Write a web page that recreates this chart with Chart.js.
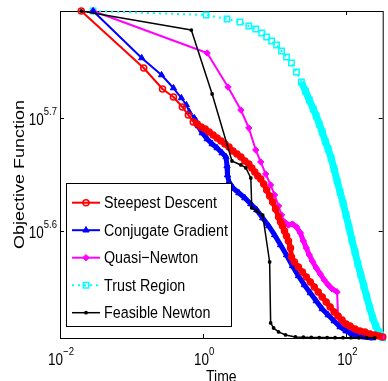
<!DOCTYPE html>
<html>
<head>
<meta charset="utf-8">
<title>Objective Function vs Time</title>
<script src="https://cdn.jsdelivr.net/npm/chart.js@4.4.1/dist/chart.umd.min.js"></script>
<style>
    html, body { margin: 0; padding: 0; background: #fff; }
    #plot { display: block; }
</style>
</head>
<body>
<canvas id="plot" width="388" height="381"></canvas>
<script>
// Solver runs: elapsed time (s) and objective value per iteration.
const sdTime = [0.0198, 0.1476, 0.2704, 0.3842, 0.5118, 0.6198, 0.727, 0.826, 0.938, 1.066, 1.211, 1.376, 1.563, 1.776, 2.017, 2.291, 2.603, 2.958, 3.360, 3.817, 4.337, 4.773, 5.252, 5.779, 6.360, 6.998, 7.700, 8.472, 9.322, 10.26, 11.29, 12.03, 12.82, 13.67, 14.57, 15.53, 16.56, 17.10, 18.80, 21.36, 24.27, 27.57, 31.32, 35.59, 40.43, 45.92, 52.19, 59.28, 67.35, 76.51, 86.91, 98.75, 112.2, 131.6, 154.3, 181.0, 212.3, 248.9, 282.9, 321.4];
const sdValue = [624350, 555600, 532200, 523600, 513000, 504600, 497500, 495400, 492400, 490400, 487400, 484400, 481400, 478500, 475600, 472700, 468800, 465900, 463100, 459300, 456500, 452800, 449100, 445400, 442700, 438200, 432800, 427600, 422300, 416300, 409600, 405400, 402100, 398000, 393900, 389900, 384400, 377400, 373500, 369700, 366000, 362200, 358600, 354900, 351300, 347700, 344200, 340700, 337200, 334400, 331700, 329000, 327700, 325700, 324300, 323700, 322400, 321700, 321000, 320400];

const cgTime = [0.029, 0.1384, 0.2619, 0.3842, 0.4957, 0.5815, 0.6399, 0.7504, 0.8527, 0.9685, 1.136, 1.333, 1.563, 1.833, 2.083, 2.150, 2.184, 2.291, 2.603, 3.153, 3.817, 4.623, 5.597, 6.777, 8.207, 9.936, 12.03, 14.57, 17.64, 21.36, 25.86, 31.32, 37.92, 45.92, 55.63, 67.35, 81.55, 98.75, 119.5, 144.8, 175.3, 233.6];
const cgValue = [624350, 567100, 547700, 533300, 522500, 515100, 507800, 501600, 493400, 486400, 480500, 475600, 471700, 466900, 463100, 454600, 446300, 440000, 434600, 430200, 425800, 420600, 415500, 408700, 402100, 394800, 386800, 378900, 370500, 363000, 356400, 350600, 344900, 339300, 335100, 331000, 327000, 324300, 322400, 321000, 320400, 319700];

const qnTime = [0.029, 1.136, 2.220, 3.360, 4.337, 5.422, 6.360, 7.459, 8.748, 9.936, 11.29, 12.42, 13.67, 15.53, 17.64, 20.04, 22.77, 25.06, 27.57, 30.34, 33.38, 37.92, 43.09, 48.96, 55.63, 63.18, 74.10, 76.51, 84.20, 98.75, 115.8, 135.8, 159.3, 186.8, 219.1, 257.0, 321.4];
const qnValue = [624350, 572900, 534400, 509800, 491400, 469800, 458400, 447200, 437300, 428400, 418900, 411200, 405400, 402900, 403700, 401300, 396400, 389900, 384400, 378900, 374300, 369000, 364500, 360000, 356400, 353500, 351300, 334400, 330400, 327700, 325700, 324300, 323700, 323000, 322400, 321700, 320400];

const trTime = [0.029, 1.101, 2.150, 3.255, 4.337, 5.422, 6.566, 7.700, 9.032, 10.59, 12.42, 14.57, 17.10, 20.04, 23.51, 26.71, 30.34, 34.46, 37.92, 41.74, 45.92, 50.53, 55.63, 61.20, 67.35, 74.10, 81.55, 89.75, 98.75, 108.6, 119.5, 131.6, 144.8, 159.3, 175.3, 192.9, 212.3, 233.6, 257.0, 282.9, 301.5, 321.4];
const trValue = [624350, 619300, 614200, 610500, 605500, 601800, 596900, 592000, 587200, 582400, 575300, 568200, 561300, 551100, 539900, 530100, 520400, 510900, 503600, 495400, 487400, 478500, 470700, 462100, 451800, 440900, 431100, 421500, 411200, 401300, 390700, 381300, 372000, 363700, 355600, 347700, 340000, 333100, 327700, 323700, 321700, 319800];

const fnTime = [0.0198, 0.6822, 1.333, 2.521, 3.360, 3.941, 4.623, 4.773, 5.597, 6.777, 8.472, 8.748, 9.625, 11.29, 14.12, 19.42, 25.06, 32.33, 41.74, 53.86, 69.53, 89.75, 115.8, 149.5, 192.9, 248.9];
const fnValue = [624350, 600500, 526800, 459300, 455600, 452800, 443600, 417200, 414600, 411200, 373500, 329700, 326300, 323700, 321700, 320400, 320200, 320100, 320000, 320000, 319900, 319900, 319900, 319800, 319800, 319800];

const seriesNames = ['Steepest Descent', 'Conjugate Gradient', 'Quasi\u2212Newton', 'Trust Region', 'Feasible Newton'];

const xRange = [0.01, 321.4];
const yRange = [319700, 624350];
const xTickValues = [0.01, 1, 100];
const xTickPowers = ['\u22122', '0', '2'];
const yTickValues = [398107, 501187];
const yTickPowers = ['5.6', '5.7'];

(function () {
    'use strict';

    const FONT = '"Liberation Sans", Arial, Helvetica, sans-serif';
    const STRETCH = 1.16;

    function points(times, values) {
        return times.map(function (t, i) {
            return { x: t, y: values[i] };
        });
    }

    // iterations bunch up late in a run; draw those stretches as a solid band
    function dense(from, sparse, packed) {
        return function (ctx) {
            const span = Math.hypot(ctx.p1.x - ctx.p0.x, ctx.p1.y - ctx.p0.y);
            return ctx.p0DataIndex >= from && span < 16 ? packed : sparse;
        };
    }

    function series(label, times, values, style) {
        return Object.assign({
            label: label,
            data: points(times, values),
            fill: false,
            tension: 0,
            clip: false,
            borderJoinStyle: 'round',
            pointHoverRadius: style.pointRadius
        }, style);
    }

    const datasets = [
        series(seriesNames[0], sdTime, sdValue, {
            order: 1,
            borderColor: '#ff0000',
            borderWidth: 2,
            pointStyle: 'circle',
            pointRadius: 3,
            pointBorderWidth: 1.5,
            pointBorderColor: '#ff0000',
            pointBackgroundColor: 'rgba(255,255,255,0)',
            segment: { borderWidth: dense(6, 2, 5) }
        }),
        series(seriesNames[1], cgTime, cgValue, {
            order: 2,
            borderColor: '#0000ff',
            borderWidth: 2,
            pointStyle: 'triangle',
            pointRadius: 3.6,
            pointBorderWidth: 1,
            pointBorderColor: '#0000ff',
            pointBackgroundColor: '#0000ff',
            segment: { borderWidth: dense(7, 2, 5) }
        }),
        series(seriesNames[2], qnTime, qnValue, {
            order: 3,
            borderColor: '#ff00ff',
            borderWidth: 2,
            pointStyle: 'rectRot',
            pointRadius: 3.2,
            pointBorderWidth: 1,
            pointBorderColor: '#ff00ff',
            pointBackgroundColor: '#ff00ff',
            segment: { borderWidth: dense(12, 2, 5) }
        }),
        series(seriesNames[3], trTime, trValue, {
            order: 4,
            borderColor: '#00ffff',
            borderWidth: 2,
            borderDash: [2, 4],
            pointStyle: 'rect',
            pointRadius: 3.8,
            pointBorderWidth: 1.5,
            pointBorderColor: '#00ffff',
            pointBackgroundColor: 'rgba(255,255,255,0)',
            segment: {
                borderWidth: dense(14, 2, 7),
                borderDash: dense(14, [2, 4], [])
            }
        }),
        series(seriesNames[4], fnTime, fnValue, {
            order: 0,
            borderColor: '#000000',
            borderWidth: 1.5,
            pointStyle: 'circle',
            pointRadius: 1.9,
            pointBorderWidth: 0,
            pointBorderColor: '#000000',
            pointBackgroundColor: '#000000'
        })
    ];

    function text(ctx, str, x, y, size, align, vertical) {
        ctx.save();
        ctx.translate(x, y);
        ctx.scale(1, STRETCH);
        if (vertical) {
            ctx.rotate(-Math.PI / 2);
        }
        ctx.font = size + 'px ' + FONT;
        ctx.textAlign = align;
        ctx.textBaseline = 'alphabetic';
        ctx.fillStyle = '#000';
        ctx.fillText(str, 0, 0);
        ctx.restore();
    }

    function power(ctx, exponent, x, y, align) {
        ctx.font = '13.5px ' + FONT;
        const baseWidth = ctx.measureText('10').width;
        ctx.font = '9.5px ' + FONT;
        const total = baseWidth + ctx.measureText(exponent).width;
        const left = align === 'center' ? x - total / 2 : x - total;
        text(ctx, '10', left, y, 13.5, 'left');
        text(ctx, exponent, left + baseWidth, y - 10, 9.5, 'left');
    }

    function marker(ctx, ds, x, y) {
        const r = ds.pointRadius;
        ctx.beginPath();
        if (ds.pointStyle === 'triangle') {
            ctx.moveTo(x, y - r);
            ctx.lineTo(x + r * 0.866, y + r / 2);
            ctx.lineTo(x - r * 0.866, y + r / 2);
            ctx.closePath();
        } else if (ds.pointStyle === 'rectRot') {
            ctx.moveTo(x, y - r);
            ctx.lineTo(x + r, y);
            ctx.lineTo(x, y + r);
            ctx.lineTo(x - r, y);
            ctx.closePath();
        } else if (ds.pointStyle === 'rect') {
            const h = r * Math.SQRT1_2;
            ctx.rect(x - h, y - h, h * 2, h * 2);
        } else {
            ctx.arc(x, y, r, 0, Math.PI * 2);
        }
        ctx.fillStyle = ds.pointBackgroundColor;
        ctx.fill();
        if (ds.pointBorderWidth > 0) {
            ctx.lineWidth = ds.pointBorderWidth;
            ctx.strokeStyle = ds.pointBorderColor;
            ctx.stroke();
        }
    }

    function drawLegend(ctx) {
        const box = { left: 66.5, top: 183.5, right: 231.5, bottom: 326.5 };
        ctx.save();
        ctx.fillStyle = '#fff';
        ctx.fillRect(box.left, box.top, box.right - box.left, box.bottom - box.top);
        ctx.strokeStyle = '#000';
        ctx.lineWidth = 1;
        ctx.strokeRect(box.left, box.top, box.right - box.left, box.bottom - box.top);

        datasets.forEach(function (ds, i) {
            const y = 202.7 + i * 27.5;
            ctx.save();
            ctx.strokeStyle = ds.borderColor;
            ctx.lineWidth = ds.borderWidth;
            ctx.setLineDash(ds.borderDash || []);
            ctx.beginPath();
            ctx.moveTo(72, y);
            ctx.lineTo(100, y);
            ctx.stroke();
            ctx.setLineDash([]);
            marker(ctx, ds, 86, y);
            ctx.restore();
            text(ctx, ds.label, 104, y + 5.5, 14.3, 'left');
        });
        ctx.restore();
    }

    const axesBox = {
        id: 'axesBox',
        beforeDatasetsDraw: function (chart) {
            const ctx = chart.ctx;
            const area = chart.chartArea;
            const xs = chart.scales.x;
            const ys = chart.scales.y;
            ctx.save();
            ctx.strokeStyle = '#000';
            ctx.lineWidth = 1;
            ctx.strokeRect(area.left + 0.5, area.top + 0.5, area.right - area.left, area.bottom - area.top);
            ctx.beginPath();
            xTickValues.forEach(function (v) {
                const x = Math.round(xs.getPixelForValue(v)) + 0.5;
                ctx.moveTo(x, area.bottom);
                ctx.lineTo(x, area.bottom - 4);
                ctx.moveTo(x, area.top);
                ctx.lineTo(x, area.top + 4);
            });
            yTickValues.forEach(function (v) {
                const y = Math.round(ys.getPixelForValue(v)) + 0.5;
                ctx.moveTo(area.left, y);
                ctx.lineTo(area.left + 4, y);
                ctx.moveTo(area.right, y);
                ctx.lineTo(area.right - 4, y);
            });
            ctx.stroke();
            ctx.restore();
        },
        afterDraw: function (chart) {
            const ctx = chart.ctx;
            const area = chart.chartArea;
            const xs = chart.scales.x;
            const ys = chart.scales.y;

            xTickValues.forEach(function (v, i) {
                power(ctx, xTickPowers[i], xs.getPixelForValue(v) + 1, 364.5, 'center');
            });
            yTickValues.forEach(function (v, i) {
                power(ctx, yTickPowers[i], area.left - 3, ys.getPixelForValue(v) + 7, 'right');
            });

            text(ctx, 'Time', (area.left + area.right) / 2, 382, 14, 'center');
            text(ctx, 'Objective Function', 23.5, (area.top + area.bottom) / 2, 15.5, 'center', true);

            drawLegend(ctx);
        }
    };

    new Chart(document.getElementById('plot'), {
        type: 'line',
        data: { datasets: datasets },
        options: {
            responsive: false,
            animation: false,
            devicePixelRatio: 1,
            events: [],
            layout: { padding: { left: 60, top: 11, right: 3, bottom: 43 } },
            plugins: {
                legend: { display: false },
                tooltip: { enabled: false }
            },
            scales: {
                x: { type: 'logarithmic', display: false, min: xRange[0], max: xRange[1] },
                y: { type: 'logarithmic', display: false, min: yRange[0], max: yRange[1] }
            }
        },
        plugins: [axesBox]
    });
})();
</script>
</body>
</html>
